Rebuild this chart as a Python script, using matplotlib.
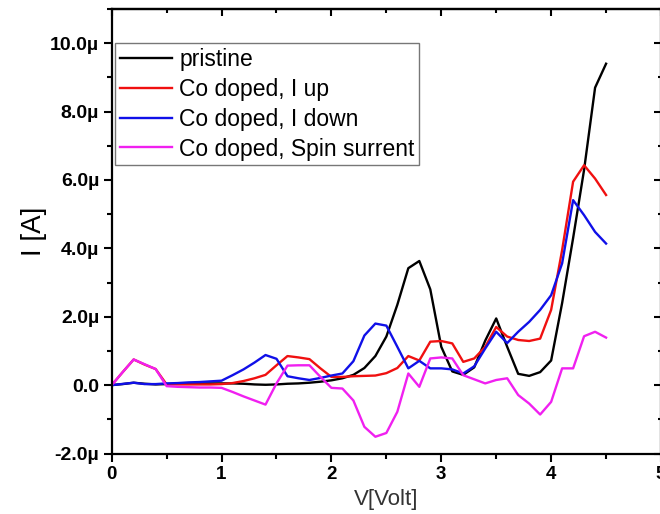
import matplotlib
matplotlib.use("Agg")
import matplotlib.pyplot as plt
from matplotlib.ticker import MultipleLocator, FuncFormatter

plt.rcParams['font.family'] = ['Liberation Sans', 'DejaVu Sans']

# Bias voltage (V)
voltage = [0.0, 0.1, 0.2, 0.3, 0.4, 0.5, 0.6, 0.7, 0.8, 0.9,
           1.0, 1.1, 1.2, 1.3, 1.4, 1.5, 1.6, 1.7, 1.8, 1.9,
           2.0, 2.1, 2.2, 2.3, 2.4, 2.5, 2.6, 2.7, 2.8, 2.9,
           3.0, 3.1, 3.2, 3.3, 3.4, 3.5, 3.6, 3.7, 3.8, 3.9,
           4.0, 4.1, 4.2, 4.3, 4.4, 4.5]

# Currents in microampere
pristine = [0.0, 0.03, 0.07, 0.04, 0.02, 0.03, 0.04, 0.05, 0.05, 0.05,
            0.05, 0.05, 0.04, 0.02, 0.01, 0.02, 0.04, 0.05, 0.07, 0.10,
            0.14, 0.20, 0.30, 0.50, 0.85, 1.42, 2.35, 3.42, 3.63, 2.80,
            1.12, 0.40, 0.30, 0.52, 1.30, 1.95, 1.12, 0.33, 0.27, 0.38,
            0.72, 2.40, 4.30, 6.30, 8.70, 9.40]

co_up = [0.0, 0.38, 0.75, 0.60, 0.47, 0.02, 0.02, 0.02, 0.02, 0.02,
         0.03, 0.06, 0.12, 0.20, 0.30, 0.58, 0.85, 0.81, 0.76, 0.49,
         0.24, 0.24, 0.26, 0.27, 0.28, 0.35, 0.50, 0.85, 0.72, 1.27,
         1.29, 1.22, 0.68, 0.78, 1.12, 1.70, 1.42, 1.32, 1.29, 1.36,
         2.20, 3.95, 5.95, 6.43, 6.04, 5.56]

co_down = [0.0, 0.035, 0.07, 0.03, 0.03, 0.05, 0.06, 0.08, 0.09, 0.11,
           0.13, 0.29, 0.46, 0.66, 0.88, 0.77, 0.26, 0.20, 0.15, 0.21,
           0.28, 0.34, 0.70, 1.45, 1.80, 1.74, 1.12, 0.49, 0.71, 0.49,
           0.49, 0.46, 0.34, 0.55, 1.07, 1.56, 1.23, 1.56, 1.85, 2.20,
           2.63, 3.56, 5.41, 4.97, 4.48, 4.14]

co_spin = [0.0, 0.38, 0.75, 0.61, 0.47, -0.03, -0.05, -0.06, -0.07, -0.07,
           -0.08, -0.20, -0.33, -0.45, -0.57, 0.05, 0.57, 0.58, 0.58, 0.24,
           -0.08, -0.10, -0.45, -1.22, -1.51, -1.40, -0.78, 0.34, -0.05, 0.78,
           0.81, 0.78, 0.29, 0.17, 0.05, 0.15, 0.20, -0.29, -0.54, -0.86,
           -0.49, 0.49, 0.49, 1.43, 1.56, 1.39]

series_labels = ["pristine", "Co doped, I up", "Co doped, I down",
                 "Co doped, Spin surrent"]
series_colors = ["#000000", "#f01010", "#1010e8", "#f020f0"]

fig = plt.figure(figsize=(6.6, 5.14), dpi=100)
ax = fig.add_axes([111.7 / 660, 1 - 453.5 / 514,
                   (661.0 - 111.7) / 660, (453.5 - 9) / 514])

for vals, lab, col in zip([pristine, co_up, co_down, co_spin],
                          series_labels, series_colors):
    ax.plot(voltage, [v * 1e-6 for v in vals], color=col, lw=1.7, label=lab)

ax.set_xlim(0, 5)
ax.set_ylim(-2e-6, 11e-6)

ax.xaxis.set_major_locator(MultipleLocator(1))
ax.xaxis.set_minor_locator(MultipleLocator(0.5))
ax.yaxis.set_major_locator(MultipleLocator(2e-6))
ax.yaxis.set_minor_locator(MultipleLocator(1e-6))


def micro(v, pos):
    m = v * 1e6
    if abs(m) < 1e-9:
        return "0.0"
    return f"{m:.1f}\u00b5"


ax.yaxis.set_major_formatter(FuncFormatter(micro))
ax.xaxis.set_major_formatter(FuncFormatter(lambda v, p: f"{v:.0f}"))

ax.tick_params(which='major', direction='out', length=6, width=1.5,
               labelsize=14, pad=3)
ax.tick_params(which='minor', direction='out', length=3.5, width=1.5)
ax.tick_params(axis='x', labelsize=13.5)
for lbl in ax.get_xticklabels() + ax.get_yticklabels():
    lbl.set_fontweight('bold')

for sp in ax.spines.values():
    sp.set_linewidth(1.6)

# mirrored axes with inward ticks
top = ax.secondary_xaxis('top')
top.xaxis.set_major_locator(MultipleLocator(1))
top.xaxis.set_minor_locator(MultipleLocator(0.5))
top.tick_params(which='major', direction='in', length=5, width=1.5, labeltop=False)
top.tick_params(which='minor', direction='in', length=3, width=1.5)
top.spines['top'].set_linewidth(1.6)

right = ax.secondary_yaxis('right')
right.yaxis.set_major_locator(MultipleLocator(2e-6))
right.yaxis.set_minor_locator(MultipleLocator(1e-6))
right.tick_params(which='major', direction='in', length=5, width=1.5, labelright=False)
right.tick_params(which='minor', direction='in', length=2, width=1.5)

ax.set_ylabel("I [A]", fontsize=20, labelpad=2)
ax.set_xlabel("V[Volt]", fontsize=16, color="#333333", labelpad=4)

leg = ax.legend(loc='upper left', bbox_to_anchor=(115 / 660, 1 - 43.3 / 514),
                bbox_transform=fig.transFigure, borderaxespad=0,
                fontsize=16.5, frameon=True, fancybox=False,
                handlelength=2.3, handletextpad=0.3, borderpad=0.2,
                labelspacing=0.3)
leg.get_frame().set_edgecolor("#555555")
leg.get_frame().set_linewidth(1.0)

fig.savefig("out.png", dpi=100)
